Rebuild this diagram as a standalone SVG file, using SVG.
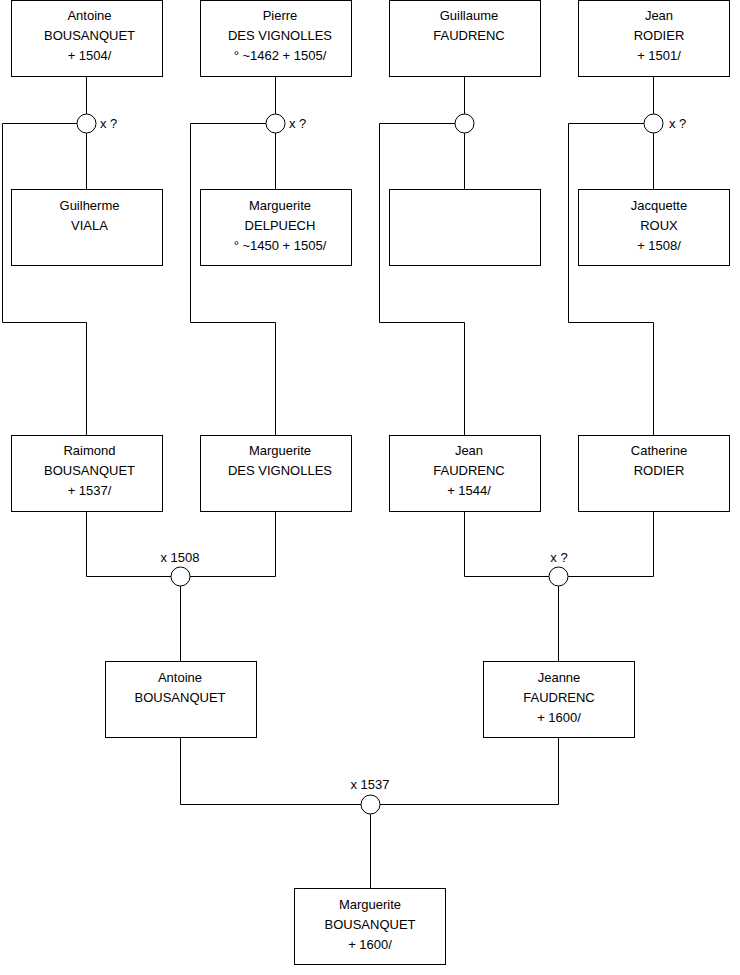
<svg xmlns="http://www.w3.org/2000/svg" width="740" height="975" viewBox="0 0 740 975">
<style>
.box{fill:#fff;stroke:#000;stroke-width:1}
.m{fill:#fff;stroke:#000;stroke-width:1}
.c{fill:none;stroke:#000;stroke-width:1}
text{font-family:"Liberation Sans",Arial,sans-serif;font-size:13px;fill:#000}
.t{text-anchor:middle}
</style>
<rect width="740" height="975" fill="#fff"/>
<g id="connectors">
<path class="c" d="M86.5 76.5V114M86.5 133V189.5M77 123.5H2.5V322.5H86.5V435.5"/>
<path class="c" d="M275.5 76.5V114M275.5 133V189.5M266 123.5H190.5V322.5H275.5V435.5"/>
<path class="c" d="M464.5 76.5V114M464.5 133V189.5M455 123.5H379.5V322.5H464.5V435.5"/>
<path class="c" d="M653.5 76.5V114M653.5 133V189.5M644 123.5H568.5V322.5H653.5V435.5"/>
<path class="c" d="M86.5 511.5V576.5H171M275.5 511.5V576.5H190M180.5 586V661.5"/>
<path class="c" d="M464.5 511.5V576.5H549M653.5 511.5V576.5H568M558.5 586V661.5"/>
<path class="c" d="M180.5 737.5V804.5H361M558.5 737.5V804.5H380M370.5 814V888.5"/>
</g>
<g id="m1"><circle class="m" cx="86.5" cy="123.5" r="9.5"/><text x="100" y="128">x ?</text></g>
<g id="m2"><circle class="m" cx="275.5" cy="123.5" r="9.5"/><text x="289" y="128">x ?</text></g>
<g id="m3"><circle class="m" cx="464.5" cy="123.5" r="9.5"/></g>
<g id="m4"><circle class="m" cx="653.5" cy="123.5" r="9.5"/><text x="669" y="128">x ?</text></g>
<g id="m5"><circle class="m" cx="180.5" cy="576.5" r="9.5"/><text class="t" x="180" y="562">x 1508</text></g>
<g id="m6"><circle class="m" cx="558.5" cy="576.5" r="9.5"/><text class="t" x="559" y="562">x ?</text></g>
<g id="m7"><circle class="m" cx="370.5" cy="804.5" r="9.5"/><text class="t" x="370" y="789">x 1537</text></g>

<g id="antoine1"><rect class="box" x="11.5" y="0.5" width="151" height="76"/><text class="t" x="89.5" y="20">Antoine</text><text class="t" x="89.5" y="40">BOUSANQUET</text><text class="t" x="89.5" y="60">+ 1504/</text></g>
<g id="pierre"><rect class="box" x="200.5" y="0.5" width="151" height="76"/><text class="t" x="280" y="20">Pierre</text><text class="t" x="280" y="40">DES VIGNOLLES</text><text class="t" x="280" y="60">° ~1462 + 1505/</text></g>
<g id="guillaume"><rect class="box" x="389.5" y="0.5" width="151" height="76"/><text class="t" x="469" y="20">Guillaume</text><text class="t" x="469" y="40">FAUDRENC</text></g>
<g id="jean1"><rect class="box" x="578.5" y="0.5" width="151" height="76"/><text class="t" x="659" y="20">Jean</text><text class="t" x="659" y="40">RODIER</text><text class="t" x="659" y="60">+ 1501/</text></g>

<g id="guilherme"><rect class="box" x="11.5" y="189.5" width="151" height="76"/><text class="t" x="89.5" y="210">Guilherme</text><text class="t" x="89.5" y="230">VIALA</text></g>
<g id="marguerite1"><rect class="box" x="200.5" y="189.5" width="151" height="76"/><text class="t" x="280" y="210">Marguerite</text><text class="t" x="280" y="230">DELPUECH</text><text class="t" x="280" y="250">° ~1450 + 1505/</text></g>
<g id="unknown"><rect class="box" x="389.5" y="189.5" width="151" height="76"/></g>
<g id="jacquette"><rect class="box" x="578.5" y="189.5" width="151" height="76"/><text class="t" x="659" y="210">Jacquette</text><text class="t" x="659" y="230">ROUX</text><text class="t" x="659" y="250">+ 1508/</text></g>

<g id="raimond"><rect class="box" x="11.5" y="435.5" width="151" height="76"/><text class="t" x="89.5" y="455">Raimond</text><text class="t" x="89.5" y="475">BOUSANQUET</text><text class="t" x="89.5" y="495">+ 1537/</text></g>
<g id="marguerite2"><rect class="box" x="200.5" y="435.5" width="151" height="76"/><text class="t" x="280" y="455">Marguerite</text><text class="t" x="280" y="475">DES VIGNOLLES</text></g>
<g id="jean2"><rect class="box" x="389.5" y="435.5" width="151" height="76"/><text class="t" x="469" y="455">Jean</text><text class="t" x="469" y="475">FAUDRENC</text><text class="t" x="469" y="495">+ 1544/</text></g>
<g id="catherine"><rect class="box" x="578.5" y="435.5" width="151" height="76"/><text class="t" x="659" y="455">Catherine</text><text class="t" x="659" y="475">RODIER</text></g>

<g id="antoine2"><rect class="box" x="105.5" y="661.5" width="151" height="76"/><text class="t" x="180" y="682">Antoine</text><text class="t" x="180" y="702">BOUSANQUET</text></g>
<g id="jeanne"><rect class="box" x="483.5" y="661.5" width="151" height="76"/><text class="t" x="559" y="682">Jeanne</text><text class="t" x="559" y="702">FAUDRENC</text><text class="t" x="559" y="722">+ 1600/</text></g>

<g id="marguerite3"><rect class="box" x="294.5" y="888.5" width="151" height="76"/><text class="t" x="370" y="909">Marguerite</text><text class="t" x="370" y="929">BOUSANQUET</text><text class="t" x="370" y="949">+ 1600/</text></g>
</svg>
